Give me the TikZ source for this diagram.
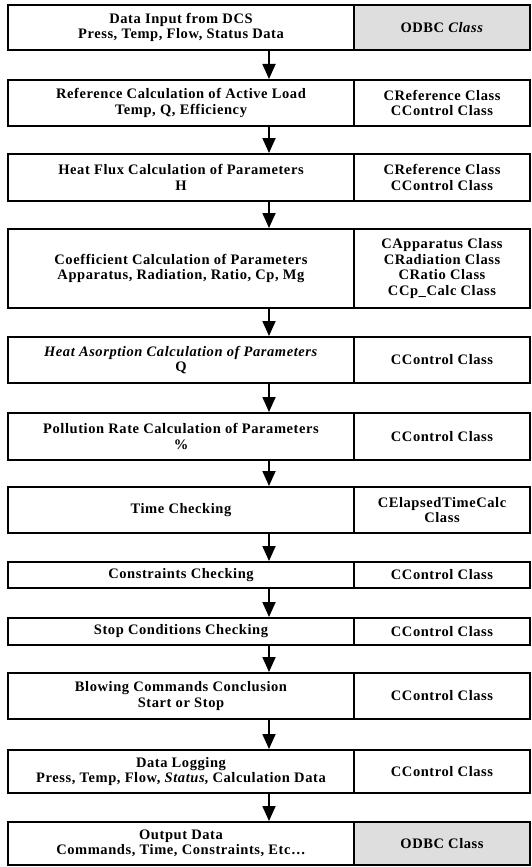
\documentclass[tikz,border=0pt]{standalone}
\usepackage{fontspec}
\setmainfont{Liberation Serif}[LetterSpace=4]
\usetikzlibrary{arrows.meta,fit}
\begin{document}
\begin{tikzpicture}[x=1pt,y=-1pt,
  font=\fontsize{14.5}{15.5}\selectfont\bfseries,
  lc/.style={draw=black, line width=1.6pt, minimum width=346pt, inner sep=0pt, align=center},
  rc/.style={draw=black, line width=1.6pt, minimum width=176pt, inner sep=0pt, align=center},
  shade/.style={fill=black!13},
  rowfit/.style={inner sep=0pt, draw=none},
  arr/.style={line width=1.8pt, -{Triangle[width=13pt,length=15pt]}}]
\useasboundingbox (0,0) rectangle (532,867);
% row 1
\node[lc, minimum height=45pt] (l1) at (181,27.5) {Data Input from DCS\\Press, Temp, Flow, Status Data};
\node[rc, shade, minimum height=45pt] (c1) at (442,27.5) {ODBC \textit{Class}};
\node[rowfit, fit=(l1)(c1)] (r1) {};
% row 2
\node[lc, minimum height=46pt] (l2) at (181,103) {Reference Calculation of Active Load\\Temp, Q, Efficiency};
\node[rc, minimum height=46pt] (c2) at (442,103) {CReference Class\\CControl Class};
\node[rowfit, fit=(l2)(c2)] (r2) {};
% row 3
\node[lc, minimum height=47pt] (l3) at (181,177.5) {Heat Flux Calculation of Parameters\\H};
\node[rc, minimum height=47pt] (c3) at (442,177.5) {CReference Class\\CControl Class};
\node[rowfit, fit=(l3)(c3)] (r3) {};
% row 4
\node[lc, minimum height=79pt] (l4) at (181,268.5) {Coefficient Calculation of Parameters\\Apparatus, Radiation, Ratio, Cp, Mg};
\node[rc, minimum height=79pt] (c4) at (442,268.5) {CApparatus Class\\CRadiation Class\\CRatio Class\\CCp\_Calc Class};
\node[rowfit, fit=(l4)(c4)] (r4) {};
% row 5
\node[lc, minimum height=46pt] (l5) at (181,360) {\textit{Heat Asorption Calculation of Parameters}\\Q};
\node[rc, minimum height=46pt] (c5) at (442,360) {CControl Class};
\node[rowfit, fit=(l5)(c5)] (r5) {};
% row 6
\node[lc, minimum height=47pt] (l6) at (181,436.5) {Pollution Rate Calculation of Parameters\\\%};
\node[rc, minimum height=47pt] (c6) at (442,436.5) {CControl Class};
\node[rowfit, fit=(l6)(c6)] (r6) {};
% row 7
\node[lc, minimum height=46pt] (l7) at (181,510) {Time Checking};
\node[rc, minimum height=46pt] (c7) at (442,510) {CElapsedTimeCalc\\Class};
\node[rowfit, fit=(l7)(c7)] (r7) {};
% row 8
\node[lc, minimum height=26pt] (l8) at (181,575) {Constraints Checking};
\node[rc, minimum height=26pt] (c8) at (442,575) {CControl Class};
\node[rowfit, fit=(l8)(c8)] (r8) {};
% row 9
\node[lc, minimum height=27pt] (l9) at (181,631.5) {Stop Conditions Checking};
\node[rc, minimum height=27pt] (c9) at (442,631.5) {CControl Class};
\node[rowfit, fit=(l9)(c9)] (r9) {};
% row 10
\node[lc, minimum height=46pt] (l10) at (181,696) {Blowing Commands Conclusion\\Start or Stop};
\node[rc, minimum height=46pt] (c10) at (442,696) {CControl Class};
\node[rowfit, fit=(l10)(c10)] (r10) {};
% row 11
\node[lc, minimum height=43pt] (l11) at (181,771.5) {Data Logging\\Press, Temp, Flow, \textit{Status}, Calculation Data};
\node[rc, minimum height=43pt] (c11) at (442,771.5) {CControl Class};
\node[rowfit, fit=(l11)(c11)] (r11) {};
% row 12
\node[lc, minimum height=43pt] (l12) at (181,843.5) {Output Data\\Commands, Time, Constraints, Etc\ldots};
\node[rc, shade, minimum height=43pt] (c12) at (442,843.5) {ODBC Class};
\node[rowfit, fit=(l12)(c12)] (r12) {};
% arrows
\foreach \a/\b in {r1/r2,r2/r3,r3/r4,r4/r5,r5/r6,r6/r7,r7/r8,r8/r9,r9/r10,r10/r11,r11/r12}
  \draw[arr] (\a.south) -- (\b.north);
\end{tikzpicture}
\end{document}
